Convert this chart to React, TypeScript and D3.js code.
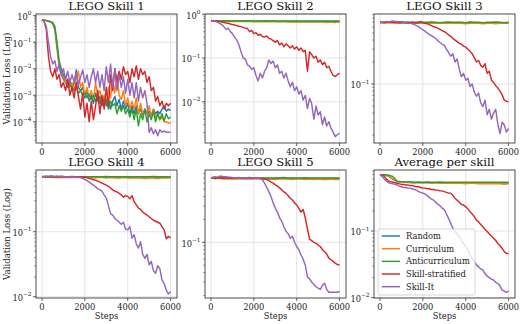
import React from 'react';
import * as d3 from 'd3';

// series order in every panel
const SERIES_NAMES = ['Random', 'Curriculum', 'Anticurriculum', 'Skill-stratified', 'Skill-It'];
const COLORS = ['#1f77b4', '#ff7f0e', '#2ca02c', '#d62728', '#9467bd'];
const X_TICKS = [0, 2000, 4000, 6000];
const TITLES = ['LEGO Skill 1', 'LEGO Skill 2', 'LEGO Skill 3', 'LEGO Skill 4', 'LEGO Skill 5', 'Average per skill'];

// ---- LEGO skill 1 (every 100 steps)
const skill1Random = [
  0.7, 0.68, 0.65, 0.62, 0.58, 0.5, 0.3, 0.06, 0.012, 0.006,
  0.004, 0.003, 0.002, 0.004, 0.0015, 0.003, 0.009, 0.002, 0.0015, 0.002,
  0.0008, 0.0015, 0.0006, 0.001, 0.0005, 0.0012, 0.0006, 0.0009, 0.0004, 0.0008,
  0.0004, 0.0007, 0.0003, 0.0006, 0.0009, 0.0004, 0.0007, 0.0003, 0.0006, 0.0003,
  0.0005, 0.0002, 0.0004, 0.0002, 0.0004, 0.0002, 0.0003, 0.00018, 0.0003, 0.0002,
  0.00025, 0.00018, 0.0003, 0.0002, 0.00025, 0.0002, 0.0003, 0.0004, 0.00025, 0.0003,
  0.00027,
];
const skill1Curriculum = [
  0.7, 0.68, 0.66, 0.63, 0.6, 0.55, 0.35, 0.08, 0.015, 0.008,
  0.005, 0.003, 0.004, 0.002, 0.003, 0.0015, 0.004, 0.008, 0.002, 0.003,
  0.001, 0.002, 0.0008, 0.0015, 0.0007, 0.003, 0.001, 0.0015, 0.0006, 0.001,
  0.0005, 0.002, 0.0008, 0.004, 0.0012, 0.006, 0.001, 0.0007, 0.0015, 0.0004,
  0.0008, 0.0003, 0.0006, 0.0003, 0.0008, 0.0002, 0.0005, 0.0002, 0.0003, 0.0002,
  0.0004, 0.00015, 0.0003, 0.00015, 0.0002, 0.00012, 0.00015, 0.0001, 0.0001, 0.00009,
  0.00009,
];
const skill1Anti = [
  0.7, 0.68, 0.65, 0.62, 0.6, 0.55, 0.4, 0.1, 0.02, 0.01,
  0.006, 0.004, 0.003, 0.0025, 0.002, 0.0015, 0.002, 0.0012, 0.0015, 0.001,
  0.0012, 0.0008, 0.0011, 0.0007, 0.001, 0.0006, 0.0009, 0.0005, 0.0008, 0.0004,
  0.0007, 0.0003, 0.0006, 0.0004, 0.0005, 0.0002, 0.0004, 0.00025, 0.0004, 0.0002,
  0.0003, 0.00015, 0.0003, 0.00012, 0.0003, 0.00007, 0.0002, 0.00012, 0.0003, 0.0001,
  0.0002, 0.00012, 0.00025, 0.0001, 0.0002, 0.00012, 0.0002, 0.00011, 0.0002, 0.00013,
  0.00015,
];
const skill1Strat = [
  0.7, 0.6, 0.3, 0.03, 0.008, 0.005, 0.01, 0.004, 0.006, 0.002,
  0.003, 0.0015, 0.004, 0.001, 0.002, 0.0008, 0.003, 0.0009, 0.0003, 0.0012,
  0.00015, 0.0005, 0.0001, 0.0006, 0.00012, 0.0004, 0.0015, 0.0002, 0.001, 0.0003,
  0.002, 0.0004, 0.006, 0.0015, 0.01, 0.003, 0.008, 0.004, 0.012, 0.006,
  0.008, 0.003, 0.01, 0.005, 0.013, 0.004, 0.01, 0.006, 0.008, 0.003,
  0.005, 0.0015, 0.002, 0.0006, 0.0009, 0.0004, 0.0006, 0.0003, 0.0005, 0.0004,
  0.0005,
];
const skill1SkillIt = [
  0.7, 0.6, 0.4, 0.1, 0.03, 0.015, 0.02, 0.008, 0.015, 0.006,
  0.01, 0.004, 0.008, 0.003, 0.006, 0.003, 0.007, 0.0025, 0.005, 0.009,
  0.003, 0.006, 0.002, 0.005, 0.01, 0.003, 0.008, 0.002, 0.006, 0.0015,
  0.012, 0.003, 0.015, 0.002, 0.01, 0.0015, 0.006, 0.002, 0.005, 0.0012,
  0.004, 0.001, 0.003, 0.0008, 0.003, 0.0006, 0.002, 0.0008, 0.0015, 0.0005,
  0.00004, 0.00006, 0.000035, 0.00005, 0.00003, 0.00005, 0.00004, 0.000045, 0.00004, 0.00004,
  0.00004,
];

// ---- LEGO skill 2 (flat ones every 200 steps, others every 100)
const skill2Random = [0.70, 0.70, 0.69, 0.70, 0.69, 0.69, 0.70, 0.69, 0.69, 0.70, 0.69, 0.69, 0.69, 0.70, 0.69, 0.69, 0.68, 0.69, 0.69, 0.68, 0.69, 0.68, 0.69, 0.68, 0.68, 0.69, 0.68, 0.68, 0.69, 0.68, 0.68];
const skill2Curriculum = [0.70, 0.69, 0.69, 0.69, 0.68, 0.69, 0.68, 0.68, 0.68, 0.68, 0.67, 0.68, 0.67, 0.67, 0.67, 0.68, 0.67, 0.67, 0.66, 0.67, 0.66, 0.67, 0.66, 0.66, 0.66, 0.67, 0.66, 0.65, 0.66, 0.65, 0.66];
const skill2Anti = [0.70, 0.71, 0.70, 0.70, 0.71, 0.70, 0.70, 0.70, 0.71, 0.70, 0.70, 0.70, 0.70, 0.71, 0.70, 0.70, 0.70, 0.70, 0.69, 0.70, 0.70, 0.70, 0.69, 0.70, 0.70, 0.69, 0.70, 0.70, 0.69, 0.70, 0.70];
const skill2Strat = [
  0.72, 0.71, 0.70, 0.69, 0.68, 0.66, 0.65, 0.63, 0.62, 0.60,
  0.58, 0.57, 0.55, 0.53, 0.52, 0.50, 0.48, 0.47, 0.40, 0.43,
  0.36, 0.38, 0.33, 0.35, 0.31, 0.30, 0.32, 0.28, 0.27, 0.25,
  0.23, 0.25, 0.20, 0.22, 0.18, 0.21, 0.19, 0.17, 0.19, 0.16,
  0.18, 0.15, 0.17, 0.14, 0.15, 0.05, 0.14, 0.12, 0.10, 0.11,
  0.08, 0.09, 0.07, 0.08, 0.06, 0.065, 0.05, 0.04, 0.038, 0.042,
  0.045,
];
const skill2SkillIt = [
  0.72, 0.70, 0.68, 0.66, 0.62, 0.58, 0.52, 0.45, 0.48, 0.40,
  0.36, 0.30, 0.26, 0.20, 0.14, 0.10, 0.095, 0.07, 0.065, 0.055,
  0.06, 0.04, 0.03, 0.045, 0.035, 0.05, 0.06, 0.09, 0.075, 0.085,
  0.06, 0.07, 0.045, 0.05, 0.035, 0.045, 0.03, 0.022, 0.028, 0.018,
  0.022, 0.015, 0.018, 0.011, 0.014, 0.007, 0.012, 0.009, 0.004, 0.008,
  0.005, 0.006, 0.003, 0.0045, 0.0028, 0.0035, 0.0025, 0.002, 0.0016, 0.0018,
  0.0019,
];

// ---- LEGO skill 3
const skill3Random = [0.70, 0.69, 0.70, 0.69, 0.69, 0.70, 0.69, 0.69, 0.69, 0.70, 0.69, 0.69, 0.70, 0.69, 0.69, 0.69, 0.70, 0.69, 0.69, 0.69, 0.69, 0.70, 0.69, 0.69, 0.69, 0.69, 0.69, 0.70, 0.69, 0.69, 0.69];
const skill3Curriculum = [0.70, 0.69, 0.69, 0.69, 0.68, 0.69, 0.68, 0.69, 0.68, 0.68, 0.69, 0.68, 0.68, 0.68, 0.69, 0.68, 0.68, 0.68, 0.68, 0.68, 0.67, 0.68, 0.68, 0.68, 0.67, 0.68, 0.68, 0.67, 0.68, 0.68, 0.68];
const skill3Anti = [0.70, 0.70, 0.70, 0.70, 0.70, 0.69, 0.70, 0.70, 0.70, 0.69, 0.70, 0.70, 0.70, 0.70, 0.69, 0.70, 0.70, 0.70, 0.70, 0.70, 0.69, 0.70, 0.70, 0.70, 0.69, 0.70, 0.70, 0.70, 0.70, 0.69, 0.70];
const skill3Strat = [
  0.69, 0.70, 0.69, 0.71, 0.70, 0.70, 0.71, 0.70, 0.70, 0.69,
  0.70, 0.70, 0.69, 0.70, 0.69, 0.70, 0.69, 0.69, 0.70, 0.72,
  0.69, 0.68, 0.67, 0.65, 0.63, 0.61, 0.60, 0.58, 0.56, 0.54,
  0.52, 0.50, 0.47, 0.45, 0.42, 0.40, 0.38, 0.36, 0.35, 0.33,
  0.32, 0.30, 0.28, 0.26, 0.23, 0.20, 0.21, 0.18, 0.17, 0.19,
  0.14, 0.15, 0.113, 0.105, 0.095, 0.088, 0.08, 0.071, 0.060, 0.058,
  0.057,
];
const skill3SkillIt = [
  0.69, 0.70, 0.71, 0.72, 0.71, 0.72, 0.73, 0.72, 0.72, 0.71,
  0.72, 0.70, 0.69, 0.68, 0.68, 0.67, 0.65, 0.63, 0.61, 0.58,
  0.55, 0.53, 0.50, 0.48, 0.46, 0.44, 0.42, 0.39, 0.37, 0.35,
  0.34, 0.30, 0.27, 0.24, 0.26, 0.20, 0.22, 0.16, 0.126, 0.14,
  0.113, 0.12, 0.092, 0.10, 0.078, 0.068, 0.075, 0.055, 0.049, 0.06,
  0.038, 0.045, 0.033, 0.04, 0.045, 0.028, 0.021, 0.03, 0.0275, 0.022,
  0.0247,
];

// ---- LEGO skill 4
const skill4Random = [0.70, 0.70, 0.69, 0.70, 0.69, 0.70, 0.69, 0.69, 0.70, 0.69, 0.69, 0.69, 0.70, 0.69, 0.69, 0.69, 0.69, 0.70, 0.69, 0.69, 0.69, 0.69, 0.69, 0.69, 0.70, 0.69, 0.69, 0.69, 0.69, 0.69, 0.69];
const skill4Curriculum = [0.70, 0.69, 0.69, 0.68, 0.69, 0.68, 0.68, 0.69, 0.68, 0.68, 0.68, 0.68, 0.67, 0.68, 0.68, 0.67, 0.68, 0.67, 0.67, 0.68, 0.67, 0.67, 0.67, 0.67, 0.66, 0.67, 0.67, 0.66, 0.67, 0.67, 0.67];
const skill4Anti = [0.70, 0.70, 0.71, 0.70, 0.70, 0.70, 0.70, 0.71, 0.70, 0.70, 0.70, 0.70, 0.70, 0.70, 0.70, 0.71, 0.70, 0.70, 0.70, 0.70, 0.70, 0.70, 0.70, 0.70, 0.70, 0.70, 0.71, 0.70, 0.70, 0.70, 0.70];
const skill4Strat = [
  0.70, 0.71, 0.70, 0.70, 0.71, 0.70, 0.70, 0.69, 0.70, 0.70,
  0.70, 0.70, 0.69, 0.70, 0.70, 0.69, 0.70, 0.69, 0.70, 0.69,
  0.69, 0.68, 0.66, 0.65, 0.63, 0.625, 0.60, 0.58, 0.56, 0.54,
  0.52, 0.50, 0.47, 0.44, 0.42, 0.41, 0.39, 0.37, 0.34, 0.36,
  0.35, 0.32, 0.36, 0.29, 0.26, 0.23, 0.22, 0.20, 0.19, 0.18,
  0.17, 0.16, 0.15, 0.145, 0.14, 0.135, 0.12, 0.107, 0.078, 0.085,
  0.08,
];
const skill4SkillIt = [
  0.70, 0.71, 0.72, 0.71, 0.72, 0.72, 0.71, 0.72, 0.71, 0.72,
  0.71, 0.70, 0.70, 0.69, 0.70, 0.69, 0.69, 0.69, 0.68, 0.66,
  0.64, 0.61, 0.58, 0.55, 0.52, 0.49, 0.46, 0.44, 0.42, 0.37,
  0.33, 0.25, 0.19, 0.18, 0.16, 0.15, 0.14, 0.13, 0.14, 0.11,
  0.107, 0.12, 0.08, 0.09, 0.065, 0.056, 0.07, 0.045, 0.039, 0.045,
  0.031, 0.035, 0.025, 0.023, 0.03, 0.027, 0.018, 0.016, 0.0126, 0.011,
  0.012,
];

// ---- LEGO skill 5
const skill5Random = [0.70, 0.69, 0.70, 0.69, 0.70, 0.69, 0.69, 0.70, 0.69, 0.69, 0.69, 0.70, 0.69, 0.69, 0.69, 0.69, 0.70, 0.69, 0.69, 0.69, 0.69, 0.69, 0.70, 0.69, 0.69, 0.69, 0.69, 0.69, 0.69, 0.69, 0.69];
const skill5Curriculum = [0.70, 0.69, 0.69, 0.68, 0.69, 0.68, 0.69, 0.68, 0.68, 0.68, 0.69, 0.68, 0.68, 0.68, 0.68, 0.67, 0.68, 0.68, 0.68, 0.67, 0.68, 0.68, 0.67, 0.68, 0.67, 0.68, 0.67, 0.67, 0.68, 0.67, 0.67];
const skill5Anti = [0.70, 0.70, 0.70, 0.71, 0.70, 0.70, 0.70, 0.70, 0.70, 0.71, 0.70, 0.70, 0.70, 0.70, 0.70, 0.70, 0.70, 0.71, 0.70, 0.70, 0.70, 0.70, 0.70, 0.70, 0.70, 0.70, 0.70, 0.70, 0.70, 0.70, 0.70];
const skill5Strat = [
  0.70, 0.71, 0.70, 0.70, 0.71, 0.70, 0.70, 0.70, 0.69, 0.70,
  0.70, 0.70, 0.69, 0.70, 0.70, 0.70, 0.69, 0.70, 0.70, 0.69,
  0.70, 0.69, 0.70, 0.69, 0.69, 0.68, 0.67, 0.65, 0.62, 0.60,
  0.57, 0.55, 0.52, 0.49, 0.46, 0.44, 0.41, 0.38, 0.36, 0.33,
  0.31, 0.28, 0.25, 0.27, 0.21, 0.15, 0.11, 0.105, 0.10, 0.097,
  0.092, 0.088, 0.08, 0.075, 0.07, 0.062, 0.059, 0.056, 0.053, 0.051,
  0.050,
];
const skill5SkillIt = [
  0.70, 0.72, 0.73, 0.72, 0.74, 0.74, 0.73, 0.73, 0.72, 0.72,
  0.71, 0.70, 0.70, 0.71, 0.70, 0.70, 0.70, 0.69, 0.70, 0.70,
  0.70, 0.69, 0.70, 0.69, 0.66, 0.60, 0.53, 0.46, 0.40, 0.33,
  0.28, 0.25, 0.21, 0.19, 0.16, 0.14, 0.13, 0.113, 0.12, 0.10,
  0.088, 0.08, 0.068, 0.06, 0.05, 0.035, 0.033, 0.030, 0.028, 0.026,
  0.025, 0.024, 0.027, 0.029, 0.024, 0.022, 0.022, 0.022, 0.022, 0.022,
  0.0225,
];

// ---- average per skill
const avgRandom = [0.70, 0.69, 0.67, 0.60, 0.55, 0.54, 0.54, 0.54, 0.53, 0.54, 0.53, 0.54, 0.53, 0.53, 0.54, 0.53, 0.53, 0.53, 0.53, 0.53, 0.53, 0.52, 0.53, 0.53, 0.52, 0.53, 0.53, 0.52, 0.52, 0.53, 0.52];
const avgCurriculum = [0.70, 0.69, 0.67, 0.61, 0.55, 0.54, 0.54, 0.53, 0.53, 0.53, 0.53, 0.53, 0.52, 0.53, 0.52, 0.52, 0.52, 0.52, 0.52, 0.52, 0.51, 0.52, 0.52, 0.51, 0.51, 0.51, 0.51, 0.51, 0.51, 0.50, 0.51];
const avgAnti = [0.70, 0.70, 0.69, 0.66, 0.56, 0.55, 0.54, 0.55, 0.54, 0.54, 0.54, 0.54, 0.54, 0.54, 0.54, 0.54, 0.54, 0.54, 0.54, 0.54, 0.54, 0.54, 0.54, 0.54, 0.54, 0.54, 0.54, 0.54, 0.54, 0.54, 0.54];
const avgStrat = [
  0.70, 0.69, 0.66, 0.60, 0.56, 0.55, 0.54, 0.53, 0.52, 0.51,
  0.50, 0.50, 0.49, 0.49, 0.48, 0.48, 0.47, 0.46, 0.46, 0.45,
  0.44, 0.44, 0.43, 0.43, 0.42, 0.42, 0.41, 0.41, 0.40, 0.40,
  0.39, 0.38, 0.37, 0.37, 0.34, 0.31, 0.29, 0.27, 0.25, 0.245,
  0.23, 0.215, 0.195, 0.18, 0.165, 0.146, 0.137, 0.125, 0.116, 0.105,
  0.098, 0.09, 0.084, 0.078, 0.072, 0.065, 0.06, 0.055, 0.049, 0.046,
  0.046,
];
const avgSkillIt = [
  0.70, 0.66, 0.60, 0.56, 0.53, 0.52, 0.51, 0.50, 0.49, 0.47,
  0.46, 0.45, 0.45, 0.44, 0.44, 0.43, 0.42, 0.41, 0.39, 0.38,
  0.37, 0.36, 0.34, 0.32, 0.30, 0.29, 0.27, 0.25, 0.24, 0.22,
  0.21, 0.18, 0.155, 0.13, 0.11, 0.098, 0.09, 0.082, 0.072, 0.065,
  0.058, 0.052, 0.044, 0.039, 0.035, 0.031, 0.029, 0.027, 0.026, 0.023,
  0.021, 0.02, 0.019, 0.0184, 0.017, 0.0164, 0.015, 0.013, 0.0125, 0.012,
  0.0126,
];

const PANEL_SERIES = [
  [skill1Random, skill1Curriculum, skill1Anti, skill1Strat, skill1SkillIt],
  [skill2Random, skill2Curriculum, skill2Anti, skill2Strat, skill2SkillIt],
  [skill3Random, skill3Curriculum, skill3Anti, skill3Strat, skill3SkillIt],
  [skill4Random, skill4Curriculum, skill4Anti, skill4Strat, skill4SkillIt],
  [skill5Random, skill5Curriculum, skill5Anti, skill5Strat, skill5SkillIt],
  [avgRandom, avgCurriculum, avgAnti, avgStrat, avgSkillIt],
];
// log10 of the y-axis limits per panel
const Y_LIMITS = [[-4.8, 0.064], [-2.94, 0.005], [-1.808, -0.041], [-2.02, -0.05], [-1.733, -0.049], [-2.005, -0.085]];

const W = 523;
const H = 324;
const FONT = 'DejaVu Serif';
const COL_X = [36, 205, 374];
const PW = 141;
const ROWS = [[14, 143], [170, 298]];
const SPINE = '#3a3a3a';
const GRID = '#dddddd';

const sup = (e: number) => (e < 0 ? '\u2212' + Math.abs(e) : String(e));

function Panel({ i }: { i: number }) {
  const col = i % 3;
  const row = Math.floor(i / 3);
  const x0 = COL_X[col];
  const x1 = x0 + PW;
  const [y0, y1] = ROWS[row];
  const [lo, hi] = Y_LIMITS[i];

  const x = d3.scaleLinear().domain([-280, 6300]).range([x0, x1]);
  const y = d3.scaleLog().domain([10 ** lo, 10 ** hi]).range([y1, y0]);
  const line = (vals: number[]) =>
    d3.line<number>()
      .x((_, j) => x((j * 6000) / (vals.length - 1)))
      .y((d) => y(d))(vals) as string;

  const majors = d3.range(Math.ceil(lo - 1e-9), Math.floor(hi + 1e-9) + 1);
  const minors: number[] = [];
  for (let e = Math.floor(lo); e < Math.ceil(hi); e++) {
    for (let m = 2; m <= 9; m++) {
      const l = Math.log10(m) + e;
      if (l > lo && l < hi) minors.push(m * 10 ** e);
    }
  }
  const clipId = `clip${i}`;

  return (
    <g>
      <defs>
        <clipPath id={clipId}>
          <rect x={x0} y={y0} width={PW} height={y1 - y0} />
        </clipPath>
      </defs>
      {X_TICKS.map((t) => (
        <line key={'gx' + t} x1={x(t)} x2={x(t)} y1={y0} y2={y1} stroke={GRID} strokeWidth={0.8} />
      ))}
      {majors.map((e) => (
        <line key={'gy' + e} x1={x0} x2={x1} y1={y(10 ** e)} y2={y(10 ** e)} stroke={GRID} strokeWidth={0.8} />
      ))}
      <g clipPath={`url(#${clipId})`}>
        {PANEL_SERIES[i].map((vals, k) => (
          <path key={k} d={line(vals)} fill="none" stroke={COLORS[k]} strokeWidth={1.45} strokeLinejoin="round" />
        ))}
      </g>
      <rect x={x0} y={y0} width={PW} height={y1 - y0} fill="none" stroke={SPINE} strokeWidth={0.9} />
      {X_TICKS.map((t) => (
        <g key={'tx' + t}>
          <line x1={x(t)} x2={x(t)} y1={y1} y2={y1 + 3} stroke={SPINE} strokeWidth={0.8} />
          <text x={x(t)} y={y1 + 11.5} textAnchor="middle" fontSize={8.3} fontFamily={FONT} fill="#222">
            {t}
          </text>
        </g>
      ))}
      {majors.map((e) => (
        <g key={'ty' + e}>
          <line x1={x0 - 3} x2={x0} y1={y(10 ** e)} y2={y(10 ** e)} stroke={SPINE} strokeWidth={0.8} />
          <text x={x0 - 4.5} y={y(10 ** e) + 4.3} textAnchor="end" fontSize={8.3} fontFamily={FONT} fill="#222">
            10
            <tspan fontSize={5.8} dy={-4.8}>{sup(e)}</tspan>
          </text>
        </g>
      ))}
      {minors.map((v, k) => (
        <line key={'my' + k} x1={x0 - 1.7} x2={x0} y1={y(v)} y2={y(v)} stroke={SPINE} strokeWidth={0.6} />
      ))}
      <text x={(x0 + x1) / 2} y={y0 - 3.6} textAnchor="middle" fontSize={11.7} fontFamily={FONT} fill="#111">
        {TITLES[i]}
      </text>
      {row === 1 && (
        <text x={(x0 + x1) / 2} y={319} textAnchor="middle" fontSize={8.3} fontFamily={FONT} fill="#222">
          Steps
        </text>
      )}
      {col === 0 && (
        <text
          transform={`translate(10,${(y0 + y1) / 2}) rotate(-90)`}
          textAnchor="middle"
          fontSize={8.6}
          fontFamily={FONT}
          fill="#222"
        >
          Validation Loss (Log)
        </text>
      )}
    </g>
  );
}

function Legend() {
  const lx = 378;
  const ly = 229;
  const rowY = d3.scaleLinear().domain([0, 4]).range([236, 286.7]);
  return (
    <g>
      <rect x={lx} y={ly} width={97} height={66} rx={2} fill="#fff" fillOpacity={0.8} stroke="#cccccc" strokeWidth={0.8} />
      {SERIES_NAMES.map((name, k) => (
        <g key={name}>
          <line x1={381.7} x2={400} y1={rowY(k)} y2={rowY(k)} stroke={COLORS[k]} strokeWidth={1.45} />
          <text x={406} y={rowY(k) + 3} fontSize={8.3} fontFamily={FONT} fill="#222">
            {name}
          </text>
        </g>
      ))}
    </g>
  );
}

export default function App() {
  return (
    <svg width={W} height={H} style={{ position: 'absolute', left: 0, top: 0, background: '#fff' }}>
      <rect width={W} height={H} fill="#fff" />
      {d3.range(6).map((i) => (
        <Panel key={i} i={i} />
      ))}
      <Legend />
    </svg>
  );
}
